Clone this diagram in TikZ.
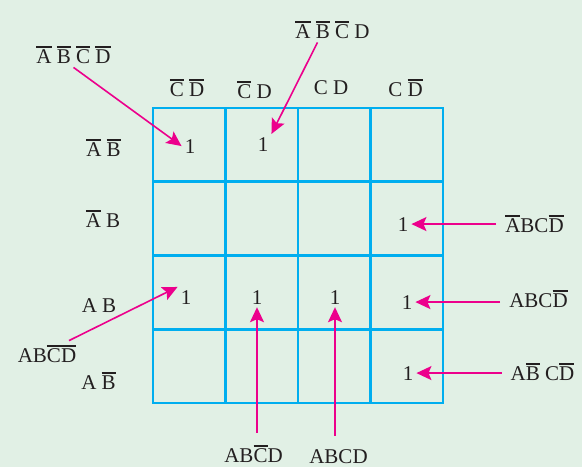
\documentclass[tikz,border=0pt]{standalone}
\usepackage{fontspec}
\setmainfont{Liberation Serif}
\usetikzlibrary{arrows.meta, positioning}

\definecolor{kmapbg}{RGB}{225,240,229}
\definecolor{kmapgrid}{RGB}{0,174,239}
\definecolor{kmaparrow}{RGB}{236,0,140}
\definecolor{kmaptext}{RGB}{35,31,32}

% complemented letter
\newcommand{\ov}[1]{\leavevmode\vbox{\hrule height 1.7pt\kern 1.6pt\hbox{#1}}}

\begin{document}
\begin{tikzpicture}[
        x=1pt, y=-1pt,
        every node/.style={text=kmaptext, font=\fontsize{21}{25}\selectfont, anchor=base},
        one/.style={inner sep=3pt},
        term/.style={inner xsep=9pt, inner ysep=4pt},
        gridline/.style={draw=kmapgrid, line width=2.6pt},
        arrow/.style={-{Stealth[length=15pt, width=14pt, inset=3pt]}, draw=kmaparrow, line width=1.6pt}
    ]
        % Background
        \fill[kmapbg] (0,0) rectangle (582,467);
        \useasboundingbox (0,0) rectangle (582,467);

        % Grid
        \draw[gridline] (153,108) rectangle (443,403);
        \foreach \i in {1,2,3} {
            \draw[gridline] (153+72.5*\i,108) -- (153+72.5*\i,403);
            \draw[gridline] (153,108+73.75*\i) -- (443,108+73.75*\i);
        }

        % Column labels
        \node (col1) at (187,96) {\ov{C} \ov{D}};
        \node (col2) at (254.5,98) {\ov{C} D};
        \node (col3) at (331,94) {C D};
        \node (col4) at (405.5,96) {C \ov{D}};

        % Row labels
        \node (row1) at (103.5,156) {\ov{A} \ov{B}};
        \node (row2) at (103,227) {\ov{A} B};
        \node (row3) at (99,312) {A B};
        \node (row4) at (98.5,389) {A \ov{B}};

        % Ones
        \node[one] (oneA) at (190,153) {1};
        \node[one] (oneB) at (263,151) {1};
        \node[one] (oneC) at (403,231) {1};
        \node[one] (oneF) at (186,304) {1};
        \node[one] (oneG) at (257,304) {1};
        \node[one] (oneH) at (335,304) {1};
        \node[one] (oneD) at (407,309) {1};
        \node[one] (oneE) at (408,380) {1};

        % Minterms
        \node[term] (labA) at (73.5,63) {\ov{A} \ov{B} \ov{C} \ov{D}};
        \node[term] (labB) at (332.5,38) {\ov{A} \ov{B} \ov{C} D};
        \node[term] (labC) at (534.5,232) {\ov{A}BC\ov{D}};
        \node[term] (labD) at (538.5,307) {ABC\ov{D}};
        \node[term] (labE) at (542.5,380) {A\ov{B} C\ov{D}};
        \node[term] (labF) at (47,362) {AB\ov{C}\ov{D}};
        \node[term] (labG) at (253.5,462) {AB\ov{C}D};
        \node[term] (labH) at (338.5,463) {ABCD};

        % Arrows
        \draw[arrow] (labA.south) -- (oneA.west);
        \draw[arrow] ([xshift=-15pt]labB.south) -- (oneB.north east);
        \draw[arrow] (labC.west |- oneC.east) -- (oneC.east);
        \draw[arrow] (labD.west |- oneD.east) -- (oneD.east);
        \draw[arrow] (labE.west |- oneE.east) -- (oneE.east);
        \draw[arrow] ([xshift=22pt]labF.north) -- (oneF.north west);
        \draw[arrow, shorten <=8pt] (labG.north -| oneG.south) -- (oneG.south);
        \draw[arrow, shorten <=9pt] (labH.north -| oneH.south) -- (oneH.south);
    \end{tikzpicture}
\end{document}
